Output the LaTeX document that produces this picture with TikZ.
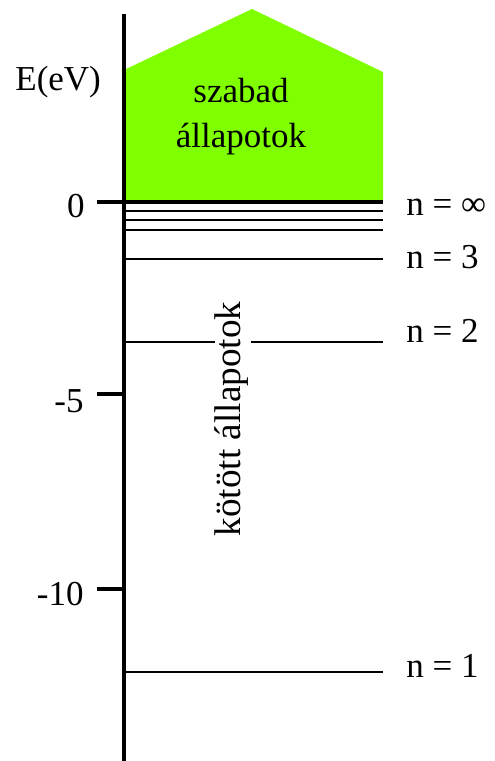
\documentclass[tikz,border=0pt]{standalone}
\usepackage{fontspec}
\setmainfont{Liberation Serif}
\definecolor{freegreen}{RGB}{128,255,0}
\begin{document}
\begin{tikzpicture}[x=0.5pt,y=-0.5pt,
  lbl/.style={font=\fontsize{17.5}{21}\selectfont, inner sep=0pt},
  axisline/.style={line width=2pt},
  level/.style={line width=1.1pt}]
\useasboundingbox (0,0) rectangle (494,761);
% free states region
\fill[freegreen] (124,70) -- (252,9) -- (383,72) -- (383,202) -- (124,202) -- cycle;
\node[lbl, anchor=base] (free1) at (241,102) {szabad};
\node[lbl, anchor=base] (free2) at (241,147) {állapotok};
% axis
\coordinate (axtop) at (124,14);
\coordinate (axbot) at (124,761);
\draw[axisline] (axtop) -- (axbot);
\node[lbl, anchor=base west] (elabel) at (15,90) {E(eV)};
% ticks
\coordinate (t0a) at (97,202);  \coordinate (t0b) at (383,202);
\coordinate (t5a) at (97,394);  \coordinate (t5b) at (124,394);
\coordinate (t10a) at (97,589); \coordinate (t10b) at (124,589);
\draw[axisline] (t0a) -- (t0b);
\draw[axisline] (t5a) -- (t5b);
\draw[axisline] (t10a) -- (t10b);
\node[lbl, anchor=base east] (l0) at (85,217) {0};
\node[lbl, anchor=base east] (l5) at (84,412) {-5};
\node[lbl, anchor=base east] (l10) at (84,605) {-10};
% bound levels near zero
\foreach \yy/\nm in {211/a, 220/b, 230/c} {
  \coordinate (h\nm a) at (124,\yy);
  \coordinate (h\nm b) at (383,\yy);
  \draw[level] (h\nm a) -- (h\nm b);
}
% n = 3
\coordinate (n3a) at (124,259); \coordinate (n3b) at (383,259);
\draw[level] (n3a) -- (n3b);
% n = 2 (broken by the label)
\coordinate (n2a) at (124,342); \coordinate (n2b) at (215,342);
\coordinate (n2c) at (251,342); \coordinate (n2d) at (383,342);
\draw[level] (n2a) -- (n2b);
\draw[level] (n2c) -- (n2d);
% n = 1
\coordinate (n1a) at (124,672); \coordinate (n1b) at (383,672);
\draw[level] (n1a) -- (n1b);
% bound states label
\node[lbl, font=\fontsize{18.6}{22}\selectfont, rotate=90] (bound) at (232,419) {kötött állapotok};
% level labels
\node[lbl, anchor=base west] (ninf) at (406,215) {n = ∞};
\node[lbl, anchor=base west] (nthree) at (406,268) {n = 3};
\node[lbl, anchor=base west] (ntwo) at (406,342) {n = 2};
\node[lbl, anchor=base west] (none) at (406,677) {n = 1};
\end{tikzpicture}
\end{document}
